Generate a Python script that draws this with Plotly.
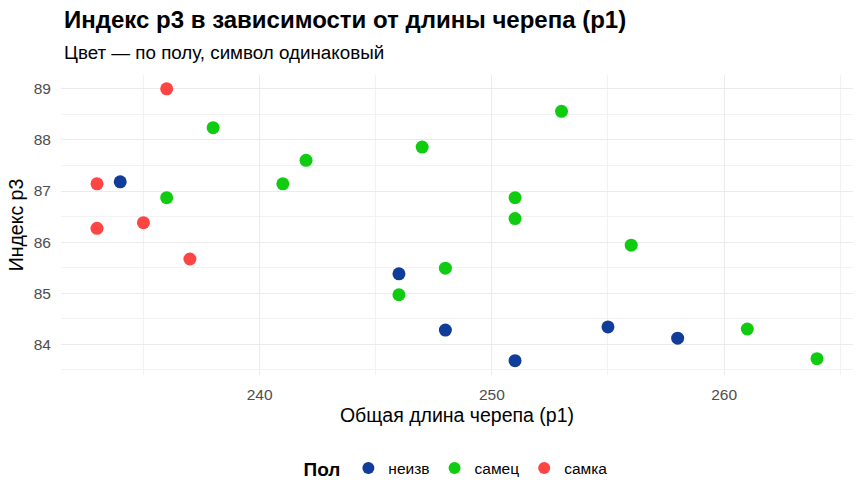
import plotly.graph_objects as go

# Data
sex_levels = ["неизв", "самец", "самка"]
colors = {"неизв": "#0F3D99", "самец": "#10CC10", "самка": "#FF4444"}

p1_unknown = [234, 246, 248, 251, 255, 258]
p3_unknown = [87.18, 85.38, 84.28, 83.68, 84.34, 84.12]

p1_male = [236, 238, 241, 242, 246, 247, 248, 251, 251, 253, 256, 261, 264]
p3_male = [86.87, 88.24, 87.14, 87.60, 84.97, 87.86, 85.49, 86.87, 86.46, 88.56, 85.94, 84.30, 83.72]

p1_female = [233, 233, 235, 236, 237]
p3_female = [87.14, 86.27, 86.38, 89.00, 85.67]

x_ticks = [240, 250, 260]
y_ticks = [84, 85, 86, 87, 88, 89]

series = {
    "неизв": (p1_unknown, p3_unknown),
    "самец": (p1_male, p3_male),
    "самка": (p1_female, p3_female),
}

fig = go.Figure()
for s in sex_levels:
    xs, ys = series[s]
    fig.add_trace(go.Scatter(
        x=xs, y=ys, mode="markers", name=s,
        marker=dict(size=13, color=colors[s], line=dict(width=0)),
    ))

font = "Liberation Sans, Arial, sans-serif"
W, H = 863, 500
L, R, T, B = 61, 10, 75, 125
plot_h = H - T - B
plot_w = W - L - R

fig.update_layout(
    width=W, height=H,
    margin=dict(l=L, r=R, t=T, b=B, autoexpand=False),
    paper_bgcolor="white", plot_bgcolor="white",
    font=dict(family=font, color="black"),
    annotations=[
        dict(
            text="<b>Индекс p3 в зависимости от длины черепа (p1)</b>",
            xref="paper", yref="paper", x=(62 - L) / plot_w, xanchor="left",
            y=1 + 55 / plot_h, yanchor="middle", showarrow=False,
            font=dict(size=24, color="black"),
        ),
        dict(
            text="Цвет — по полу, символ одинаковый",
            xref="paper", yref="paper", x=(62 - L) / plot_w, xanchor="left",
            y=1 + 23 / plot_h, yanchor="middle", showarrow=False,
            font=dict(size=18.8, color="black"),
        ),
    ],
    xaxis=dict(
        range=[231.45, 265.55], tickvals=x_ticks,
        showgrid=True, gridcolor="#EBEBEB", gridwidth=1,
        minor=dict(dtick=5, tick0=235, showgrid=True, gridcolor="#F2F2F2", gridwidth=0.7),
        zeroline=False, showline=False,
        ticks="outside", ticklen=5, tickcolor="rgba(0,0,0,0)",
        tickfont=dict(size=15.5, color="#4D4D4D"),
        automargin=False,
        title=dict(text="Общая длина черепа (p1)", font=dict(size=19.5, color="black"), standoff=6),
    ),
    yaxis=dict(
        range=[83.40, 89.27], tickvals=y_ticks,
        showgrid=True, gridcolor="#EBEBEB", gridwidth=1,
        minor=dict(dtick=0.5, tick0=83.5, showgrid=True, gridcolor="#F2F2F2", gridwidth=0.7),
        zeroline=False, showline=False,
        ticks="outside", ticklen=6, tickcolor="rgba(0,0,0,0)",
        tickfont=dict(size=15.5, color="#4D4D4D"),
        automargin=False,
        title=dict(text="Индекс p3", font=dict(size=19.5, color="black"), standoff=4),
    ),
    legend=dict(
        orientation="h", x=0.5, xanchor="center", y=-(469 - 375) / plot_h, yanchor="middle",
        title=dict(text="<b>Пол</b>", font=dict(size=19, color="black"), side="left"),
        font=dict(size=15.5, color="black"),
        itemsizing="constant",
    ),
)

fig.write_html(
    "out.html",
    config={"displayModeBar": False},
    post_script="document.body.style.margin='0';document.body.style.overflow='hidden';",
)
